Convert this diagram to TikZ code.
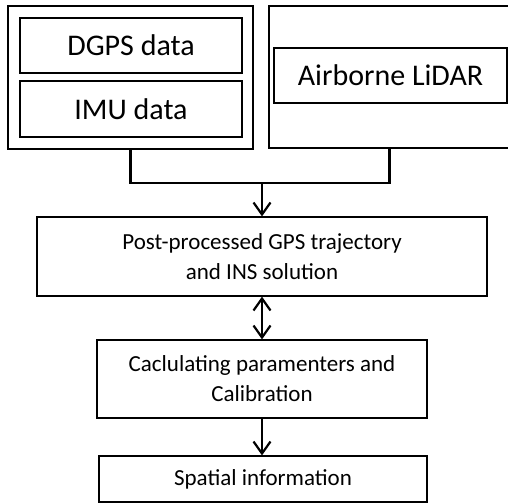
\documentclass[tikz,border=0pt]{standalone}
\usepackage{fontspec}
\setmainfont{Carlito}
\usetikzlibrary{arrows.meta}
\begin{document}
\begin{tikzpicture}[x=1pt,y=-1pt,
  outerbox/.style={draw,line width=2.6pt,minimum width=#1,inner sep=0pt},
  databox/.style={draw,line width=1.2pt,inner sep=0pt,font=\fontsize{30}{36}\selectfont},
  procbox/.style={draw,line width=1.2pt,inner sep=0pt,align=center,font=\fontsize{23}{30}\selectfont},
  conn/.style={line width=2.4pt},
  arr/.style={line width=2.2pt,-{Straight Barb[length=12pt,width=17pt,line width=2.2pt]}},
  darr/.style={line width=2.2pt,{Straight Barb[length=12pt,width=17pt,line width=2.2pt]}-{Straight Barb[length=12pt,width=17pt,line width=2.2pt]}}]
\useasboundingbox (0,0) rectangle (508,503);
\node[outerbox=245pt,minimum height=143pt] (L) at (130.5,77.5) {};
\node[outerbox=241pt,minimum height=142pt] (R) at (389.5,77) {};
\node[databox,minimum width=222pt,minimum height=55pt] (dgps) at (131,45.5) {DGPS data};
\node[databox,minimum width=222pt,minimum height=56pt] (imu) at (131,109) {IMU data};
\node[databox,minimum width=233pt,minimum height=55pt] (lidar) at (390.5,75.5) {Airborne LiDAR};
\node[procbox,minimum width=450pt,minimum height=79pt] (post) at (262,256.5) {Post-processed GPS trajectory\\and INS solution};
\node[procbox,minimum width=330pt,minimum height=78pt] (calc) at (262,379) {Caclulating paramenters and\\Calibration};
\node[procbox,minimum width=328pt,minimum height=46pt] (spat) at (263,479) {Spatial information};
\coordinate (j) at (262,183);
\draw[conn] (L.south) |- (j);
\draw[conn] (R.south) |- (j);
\draw[arr] (j) -- (post.north -| j);
\draw[darr] (post.south -| j) -- (calc.north -| j);
\draw[arr] (calc.south -| j) -- (spat.north -| j);
\end{tikzpicture}
\end{document}
